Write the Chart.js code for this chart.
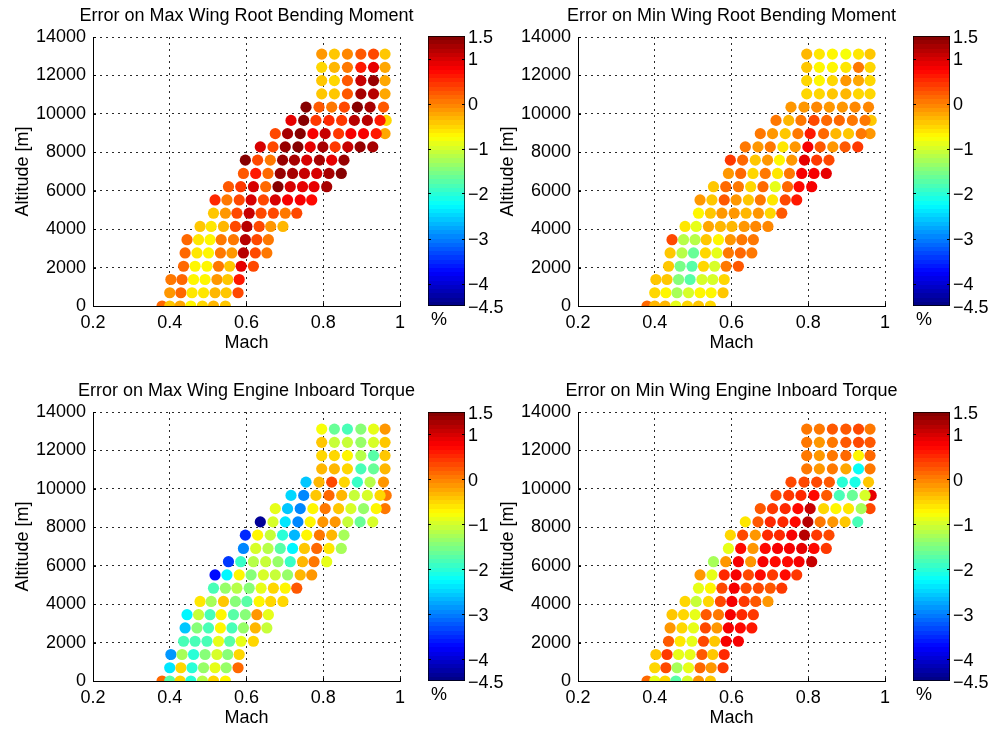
<!DOCTYPE html>
<html><head><meta charset="utf-8">
<script src="https://cdn.jsdelivr.net/npm/chart.js@4.4.1/dist/chart.umd.min.js"></script>
<style>
html,body{margin:0;padding:0;background:#fff;overflow:hidden;}
#fig{position:relative;width:992px;height:731px;background:#fff;}
#fig canvas{position:absolute;}
.unit{position:absolute;font:18px 'Liberation Sans',Arial,sans-serif;line-height:22px;color:#000;}
</style></head><body><div id="fig"></div>
<script>
// ---------- data ----------
const titles = [
  'Error on Max Wing Root Bending Moment',
  'Error on Min Wing Root Bending Moment',
  'Error on Max Wing Engine Inboard Torque',
  'Error on Min Wing Engine Inboard Torque'
];
const machTicks = [0.2, 0.4, 0.6, 0.8, 1.0];
const machTickLabels = ['0.2', '0.4', '0.6', '0.8', '1'];
const altTicks = [0, 2000, 4000, 6000, 8000, 10000, 12000, 14000];
const altTickLabels = ['0', '2000', '4000', '6000', '8000', '10000', '12000', '14000'];
const cbTicks = [-4.5, -4, -3, -2, -1, 0, 1, 1.5];
const cbTickLabels = ['\u22124.5', '\u22124', '\u22123', '\u22122', '\u22121', '0', '1', '1.5'];
const cMin = -4.5, cMax = 1.5;

// altitude of each row of flight points [m]
const altitudes = [0, 690, 1380, 2070, 2760, 3450, 4140, 4830, 5520, 6210,
                   6900, 7590, 8280, 8970, 9660, 10350, 11040, 11730, 12420, 13110];
// Mach of the flight points of each row
const machRows = [
  [0.380, 0.400, 0.427, 0.455, 0.485, 0.514, 0.545],
  [0.400, 0.429, 0.458, 0.488, 0.518, 0.547, 0.578],
  [0.403, 0.432, 0.462, 0.492, 0.523, 0.551, 0.581],
  [0.436, 0.466, 0.497, 0.527, 0.556, 0.586, 0.618],
  [0.440, 0.471, 0.501, 0.532, 0.562, 0.592, 0.623, 0.653],
  [0.445, 0.475, 0.505, 0.534, 0.566, 0.597, 0.627, 0.657],
  [0.479, 0.508, 0.540, 0.571, 0.601, 0.633, 0.663, 0.695],
  [0.514, 0.545, 0.575, 0.607, 0.638, 0.670, 0.701, 0.731],
  [0.518, 0.549, 0.581, 0.612, 0.644, 0.675, 0.707, 0.740, 0.770],
  [0.553, 0.585, 0.618, 0.650, 0.682, 0.714, 0.746, 0.776, 0.809],
  [0.592, 0.624, 0.656, 0.688, 0.720, 0.751, 0.783, 0.815, 0.847],
  [0.597, 0.629, 0.662, 0.694, 0.725, 0.757, 0.790, 0.822, 0.854],
  [0.636, 0.669, 0.701, 0.734, 0.766, 0.799, 0.831, 0.864, 0.896, 0.929],
  [0.675, 0.707, 0.740, 0.773, 0.805, 0.840, 0.872, 0.905, 0.938, 0.961],
  [0.716, 0.749, 0.781, 0.815, 0.848, 0.881, 0.915, 0.948, 0.964],
  [0.755, 0.789, 0.822, 0.855, 0.889, 0.922, 0.957],
  [0.796, 0.829, 0.863, 0.898, 0.931, 0.961],
  [0.796, 0.829, 0.863, 0.898, 0.931, 0.961],
  [0.796, 0.829, 0.863, 0.898, 0.931, 0.961],
  [0.796, 0.829, 0.863, 0.898, 0.931, 0.961]
];
// error [%] per flight point, one table per panel
const errMaxRootBending = [
  [0.1, -0.45, -0.2, -0.7, -0.5, -0.35, -0.45],
  [-0.15, 0.1, -0.65, -0.6, -0.35, -0.4, 0.3],
  [0.0, 0.15, -0.7, -0.7, -0.1, -0.45, 0.6],
  [0.15, -0.7, -0.75, 0.05, -0.45, 0.9, 0.35],
  [0.15, -0.6, -0.75, 0.05, -0.15, 1.2, 0.35, 0.05],
  [0.15, -0.6, -0.7, 0.0, 0.05, 1.2, 0.35, 0.0],
  [-0.4, -0.6, -0.3, 0.3, 1.2, 0.35, -0.15, -0.35],
  [-0.4, -0.15, 0.35, 1.1, 0.3, 0.35, 0.0, 0.3],
  [0.55, 0.0, 0.35, 1.0, 0.3, 1.0, 0.8, 0.8, 0.7],
  [0.2, 0.4, 1.0, 0.15, 1.45, 1.0, 0.9, 0.9, 1.3],
  [0.2, 0.65, 0.1, 1.4, 1.3, 1.05, 1.0, 1.3, 1.45],
  [1.5, 0.35, 0.05, 1.4, 1.3, 1.0, 1.3, 0.9, 1.4],
  [1.0, 0.35, 1.4, 1.5, 0.9, 1.3, 0.4, 1.1, 1.4, 1.3],
  [0.35, 1.3, 1.5, 0.8, 1.05, 0.45, 0.75, 0.75, 0.65, -0.2],
  [0.9, 1.45, 0.45, 0.55, 0.45, 1.2, 1.15, 0.65, -0.5],
  [1.45, 0.25, 0.0, 0.3, 1.5, 1.3, 0.2],
  [-0.4, -0.4, 0.25, 1.3, 1.2, -0.25],
  [-0.4, -0.55, 0.2, 1.1, 1.35, -0.2],
  [-0.5, -0.35, 0.0, 0.6, 0.9, -0.2],
  [-0.1, -0.4, -0.05, 0.2, 0.35, -0.45]
];
const errMinRootBending = [
  [0.1, -0.35, -0.3, -0.85, -0.5, -0.45, -0.55],
  [-0.5, -0.7, -1.25, -0.95, -0.75, -0.7, -0.45],
  [-0.45, -0.45, -1.5, -1.7, -0.95, -0.95, -0.55],
  [-0.45, -1.55, -1.7, -0.55, -1.0, 0.0, 0.2],
  [-0.45, -1.2, -1.6, -0.5, -0.85, 0.0, 0.1, 0.05],
  [0.3, -1.15, -1.2, -0.45, -0.7, -0.15, 0.0, 0.0],
  [-0.6, -0.85, -0.25, -0.35, -0.3, -0.15, -0.05, -0.05],
  [-0.7, -0.4, -0.15, -0.15, -0.35, -0.15, -0.5, 0.2],
  [-0.15, -0.45, 0.2, -0.15, -0.4, 0.0, -0.65, 0.3, 0.6],
  [-0.45, 0.1, 0.05, -0.55, 0.1, -0.9, 0.15, 0.7, 0.8],
  [-0.15, 0.1, -0.5, 0.0, -0.65, 0.0, 0.8, 0.8, 0.9],
  [0.4, 0.1, -0.4, -0.1, -0.7, -0.1, 0.9, 0.4, 0.3],
  [0.0, -0.15, 0.0, -0.6, -0.1, 0.8, 0.2, -0.15, 0.2, 0.4],
  [0.0, -0.1, -0.4, 0.0, 0.65, 0.1, -0.3, -0.4, 0.0, -0.15],
  [0.0, -0.3, 0.0, 0.3, 0.1, 0.1, 0.0, 0.0, -0.4],
  [-0.15, -0.1, -0.05, -0.15, -0.1, -0.05, -0.05],
  [-0.5, -0.55, -0.4, -0.3, -0.5, -0.55],
  [-0.5, -0.75, -0.55, -0.1, -0.25, -0.55],
  [-0.45, -0.7, -0.75, -0.6, 0.0, -0.5],
  [-0.3, -0.6, -0.75, -0.8, -0.6, -0.4]
];
const errMaxEngineTorque = [
  [0.15, -1.7, -0.5, -2.0, -1.15, -0.5, -0.75],
  [-2.35, -0.5, -2.0, -1.35, -0.85, -1.35, 0.1],
  [-2.85, -1.25, -2.05, -1.5, -0.95, -1.5, -0.5],
  [-1.85, -1.85, -1.85, -0.85, -1.7, -0.85, -0.5],
  [-2.55, -1.5, -1.8, -0.7, -1.8, -1.4, -0.3, -1.05],
  [-2.3, -1.1, -1.8, -0.7, -1.7, -1.5, -0.15, -0.85],
  [-0.65, -1.25, -0.4, -1.5, -1.7, -0.7, -0.5, -0.5],
  [-1.8, -1.35, -1.15, -1.5, -0.9, -0.55, -0.7, 0.2],
  [-3.75, -2.3, -0.7, -1.5, -1.0, -1.05, -1.4, -0.3, -0.15],
  [-3.4, -1.9, -1.15, -1.1, -1.35, -1.9, -0.3, 0.05, -0.9],
  [-2.95, -1.0, -1.15, -1.7, -2.3, -0.4, 0.15, -0.6, -1.25],
  [-3.5, -0.7, -1.1, -2.0, -2.65, -0.75, 0.0, -0.35, -1.25],
  [-4.4, -1.0, -2.35, -2.95, -0.7, -0.15, -0.15, -1.1, -1.6, -0.95],
  [-0.85, -2.55, -2.95, -0.7, 0.05, -0.4, -1.0, -1.35, -0.75, 0.05],
  [-2.45, -2.95, -0.4, 0.1, -0.35, -1.05, -1.0, -0.55, 0.0],
  [-2.55, -0.3, 0.3, -0.5, -1.9, -1.15, -0.15],
  [-0.3, -0.3, -0.5, -1.8, -1.6, -0.3],
  [-0.5, -0.55, -0.7, -1.15, -1.7, -0.4],
  [-0.4, -1.05, -1.1, -1.4, -0.95, -0.45],
  [-0.8, -1.6, -1.8, -1.5, -0.85, -0.15]
];
const errMinEngineTorque = [
  [0.1, -0.85, -0.5, -1.7, -1.0, -0.15, -0.45],
  [-0.55, 0.3, -1.25, -0.85, 0.1, -0.15, 0.4],
  [-0.4, 0.4, -0.85, -0.85, 0.2, -0.45, 0.55],
  [0.2, -0.6, -0.85, 0.3, -0.45, 0.8, 0.8],
  [-0.15, -0.55, -0.85, 0.3, -0.1, 0.8, 0.7, 0.6],
  [-0.4, -0.55, -0.9, 0.2, 0.0, 0.8, 0.5, 0.4],
  [-0.55, -1.1, -0.5, 0.3, 0.8, 0.4, 0.2, -0.1],
  [-0.9, -0.7, 0.3, 0.8, 0.3, 0.3, 0.2, 0.4],
  [-0.15, -0.9, 0.5, 0.8, 0.3, 0.7, 0.4, 0.7, 0.4],
  [-1.25, -0.1, 0.8, -0.1, 0.8, 0.7, 0.7, 0.8, 1.1],
  [-0.9, 0.7, -0.1, 0.7, 0.8, 0.8, 0.85, 0.7, 0.4],
  [-0.55, 0.3, -0.1, 0.5, 0.5, 0.75, 1.2, 0.4, 0.3],
  [-0.65, 0.2, 0.5, 0.5, 0.7, 1.2, 0.05, -0.1, -0.4, -1.8],
  [0.2, 0.4, 0.5, 0.7, 1.1, -0.5, -0.75, -0.6, -1.25, 0.3],
  [0.3, 0.4, 0.5, 0.7, 0.2, -1.8, -1.6, -1.0, 0.9],
  [0.3, 0.3, 0.3, 0.2, -2.0, -2.1, -0.4],
  [0.05, -0.1, 0.0, -0.25, -2.2, 0.0],
  [0.05, -0.1, 0.05, 0.15, -0.7, 0.1],
  [0.0, -0.1, 0.05, 0.2, 0.3, 0.2],
  [0.0, 0.0, 0.2, 0.2, 0.3, 0.05]
];

// ---------- rendering ----------
Chart.defaults.font.family = "'Liberation Sans', Arial, Helvetica, sans-serif";
Chart.defaults.font.size = 18;
Chart.defaults.color = '#000';

function jetIndexColor(idx) {
  const t = (idx + 0.5) / 64;
  const c = x => Math.round(255 * Math.min(1, Math.max(0, x)));
  return 'rgb(' + c(1.5 - Math.abs(4 * t - 3)) + ',' + c(1.5 - Math.abs(4 * t - 2)) + ',' + c(1.5 - Math.abs(4 * t - 1)) + ')';
}
function jet(v) {
  let idx = Math.floor((v - cMin) / (cMax - cMin) * 64);
  idx = Math.min(63, Math.max(0, idx));
  return jetIndexColor(idx);
}
function jetGradient(chart) {
  const a = chart.chartArea;
  if (!a) return '#000';
  const g = chart.ctx.createLinearGradient(0, a.bottom, 0, a.top);
  for (let i = 0; i < 64; i++) {
    const col = jetIndexColor(i);
    g.addColorStop(i / 64, col);
    g.addColorStop((i + 1) / 64, col);
  }
  return g;
}
function buildPoints(values) {
  const pts = [];
  altitudes.forEach((alt, r) => {
    machRows[r].forEach((m, i) => pts.push({ x: m, y: alt, v: values[r][i] }));
  });
  // points on the max-Mach boundary are drawn first (underneath neighbours)
  pts.sort((a, b) => (b.x > 0.955) - (a.x > 0.955));
  return pts;
}

const innerTicks = {
  id: 'innerTicks',
  beforeDatasetsDraw(chart) {
    const ctx = chart.ctx, xs = chart.scales.x, ys = chart.scales.y, a = chart.chartArea;
    ctx.save();
    ctx.strokeStyle = '#000';
    ctx.lineWidth = 1;
    ctx.beginPath();
    xs.ticks.forEach(t => {
      const px = Math.round(xs.getPixelForValue(t.value)) + 0.5;
      ctx.moveTo(px, a.bottom); ctx.lineTo(px, a.bottom - 3);
    });
    ys.ticks.forEach(t => {
      const py = Math.round(ys.getPixelForValue(t.value)) + 0.5;
      ctx.moveTo(a.left, py); ctx.lineTo(a.left + 3, py);
    });
    ctx.stroke();
    ctx.restore();
  }
};
const cbTickMarks = {
  id: 'cbTickMarks',
  afterDatasetsDraw(chart) {
    const ctx = chart.ctx, ys = chart.scales.y, a = chart.chartArea;
    ctx.save();
    ctx.strokeStyle = '#000';
    ctx.lineWidth = 1;
    ctx.beginPath();
    ys.ticks.forEach(t => {
      if (t.value <= cMin || t.value >= cMax) return;
      const py = Math.round(ys.getPixelForValue(t.value)) + 0.5;
      ctx.moveTo(a.left, py); ctx.lineTo(a.left + 3, py);
      ctx.moveTo(a.right, py); ctx.lineTo(a.right - 3, py);
    });
    ctx.stroke();
    ctx.restore();
  }
};

const fig = document.getElementById('fig');
function addCanvas(left, top, w, h) {
  const c = document.createElement('canvas');
  c.width = w; c.height = h;
  c.style.left = left + 'px'; c.style.top = top + 'px';
  c.style.width = w + 'px'; c.style.height = h + 'px';
  fig.appendChild(c);
  return c;
}

const panels = [
  { title: titles[0], values: errMaxRootBending, left: 0, top: 0, cbLeft: 400, cbPadTop: 36 },
  { title: titles[1], values: errMinRootBending, left: 485, top: 0, cbLeft: 885, cbPadTop: 36 },
  { title: titles[2], values: errMaxEngineTorque, left: 0, top: 375, cbLeft: 400, cbPadTop: 37 },
  { title: titles[3], values: errMinEngineTorque, left: 485, top: 375, cbLeft: 885, cbPadTop: 37 }
];

const gridStyle = { color: '#2a2a2a', lineWidth: 1, drawTicks: false };
const borderStyle = { display: true, color: '#000', width: 1, dash: [2, 4] };

panels.forEach(p => {
  const pts = buildPoints(p.values);
  const colors = pts.map(pt => jet(pt.v));
  new Chart(addCanvas(p.left, p.top, 493, 365), {
    type: 'scatter',
    data: { datasets: [{
      data: pts,
      pointRadius: 5.6, pointHoverRadius: 5.6,
      pointBorderWidth: 0, pointHoverBorderWidth: 0,
      pointBorderColor: 'rgba(0,0,0,0)',
      pointBackgroundColor: colors, pointHoverBackgroundColor: colors
    }] },
    options: {
      responsive: false, animation: false, events: [], devicePixelRatio: 1,
      layout: { padding: { left: 0, right: 0, top: 0, bottom: 0 } },
      plugins: {
        legend: { display: false }, tooltip: { enabled: false },
        title: { display: true, text: p.title, font: { size: 18, weight: 'normal' },
                 padding: { top: 5, bottom: 10.4 }, color: '#000' }
      },
      scales: {
        x: {
          type: 'linear', min: 0.2, max: 1,
          afterBuildTicks: s => { s.ticks = machTicks.map(v => ({ value: v })); },
          ticks: { callback: (v, i) => machTickLabels[i], padding: 6, maxRotation: 0, autoSkip: false, font: { size: 18 } },
          grid: gridStyle, border: borderStyle,
          title: { display: true, text: 'Mach', font: { size: 18 }, padding: { top: 0, bottom: 10.7 } },
          afterFit: s => { s.height = 59; }
        },
        y: {
          type: 'linear', min: 0, max: 14000,
          afterBuildTicks: s => { s.ticks = altTicks.map(v => ({ value: v })); },
          ticks: { callback: (v, i) => altTickLabels[i], padding: 7, autoSkip: false, font: { size: 18 } },
          grid: gridStyle, border: borderStyle,
          title: { display: true, text: 'Altitude [m]', font: { size: 18 }, padding: { top: 12, bottom: 0 } },
          afterFit: s => { s.width = 93; }
        },
        // empty spacer on the right so that the title is centred over the plot area
        spacer: {
          type: 'linear', position: 'right', display: true, min: 0, max: 1,
          ticks: { display: false }, grid: { display: false, drawTicks: false },
          border: { display: false },
          afterFit: s => { s.width = 93; }
        }
      }
    },
    plugins: [innerTicks]
  });

  // colour bar
  new Chart(addCanvas(p.cbLeft, p.top, 110, 340), {
    type: 'bar',
    data: { labels: [''], datasets: [{
      data: [[cMin, cMax]],
      backgroundColor: ctx => jetGradient(ctx.chart),
      borderColor: '#000', borderWidth: 1, borderSkipped: false,
      barPercentage: 1, categoryPercentage: 1
    }] },
    options: {
      responsive: false, animation: false, events: [], devicePixelRatio: 1,
      layout: { padding: { left: 28, right: 0, top: p.cbPadTop, bottom: 34 } },
      plugins: { legend: { display: false }, tooltip: { enabled: false } },
      scales: {
        x: { display: false },
        y: {
          position: 'right', min: cMin, max: cMax,
          afterBuildTicks: s => { s.ticks = cbTicks.map(v => ({ value: v })); },
          ticks: { callback: (v, i) => cbTickLabels[i], padding: 3, labelOffset: 2, autoSkip: false, font: { size: 18 } },
          grid: { display: false, drawTicks: false },
          border: { display: false },
          afterFit: s => { s.width = 45; }
        }
      }
    },
    plugins: [cbTickMarks]
  });

  const u = document.createElement('div');
  u.className = 'unit';
  u.textContent = '%';
  u.style.left = (p.cbLeft + 31) + 'px';
  u.style.top = (p.top + 308) + 'px';
  fig.appendChild(u);
});
</script></body></html>
